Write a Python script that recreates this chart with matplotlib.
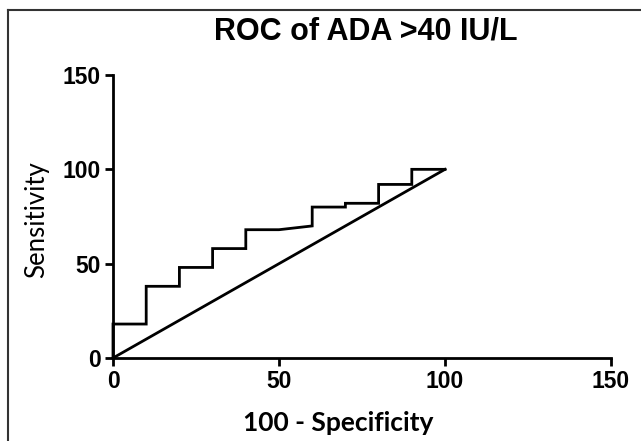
import matplotlib.pyplot as plt
from matplotlib.lines import Line2D

# ROC curve points (100 - specificity, sensitivity)
fpr = [0, 0, 10, 10, 20, 20, 30, 30, 40, 40, 50, 60, 60, 70, 70, 80, 80, 90, 90, 100]
sens = [0, 18, 18, 38, 38, 48, 48, 58, 58, 68, 68, 70, 80, 80, 82, 82, 92, 92, 100, 100]
ref_x = [0, 100]
ref_y = [0, 100]
ticks = [0, 50, 100, 150]

fig = plt.figure(figsize=(6.41, 4.41), dpi=100)
ax = fig.add_axes([113 / 641, 1 - 358 / 441, (611 - 113) / 641, (358 - 75) / 441])

ax.plot(fpr, sens, color='black', linewidth=2.0, clip_on=False, solid_joinstyle='miter')
ax.plot(ref_x, ref_y, color='black', linewidth=2.0, clip_on=False)

ax.set_xlim(0, 150)
ax.set_ylim(0, 150)
ax.set_xticks(ticks)
ax.set_yticks(ticks)
for sp in ['top', 'right']:
    ax.spines[sp].set_visible(False)
for sp in ['left', 'bottom']:
    ax.spines[sp].set_linewidth(2.0)
ax.tick_params(direction='out', length=6, width=2.0, pad=3)
for lab in ax.get_xticklabels() + ax.get_yticklabels():
    lab.set_fontfamily('Liberation Sans')
    lab.set_fontweight('bold')
    lab.set_fontsize(16.5)

fig.text(366 / 641, 1 - 31 / 441, 'ROC of ADA >40 IU/L', ha='center', va='center',
         fontsize=22, fontweight='bold', family='Liberation Sans')
fig.text(338 / 641, 1 - 423 / 441, '100 - Specificity', ha='center', va='center',
         fontsize=19, fontweight='bold', family='Lato')
fig.text(37 / 641, 1 - 220 / 441, 'Sensitivity', ha='center', va='center',
         rotation=90, fontsize=18.5, family='Lato')

# outer frame (left and top edges only visible)
fig.add_artist(Line2D([8 / 641, 8 / 641], [0, 1 - 10 / 441], transform=fig.transFigure,
                      color='#333333', linewidth=1.5))
fig.add_artist(Line2D([8 / 641, 1], [1 - 10 / 441, 1 - 10 / 441], transform=fig.transFigure,
                      color='#333333', linewidth=1.5))

fig.savefig('out.png', dpi=100)
